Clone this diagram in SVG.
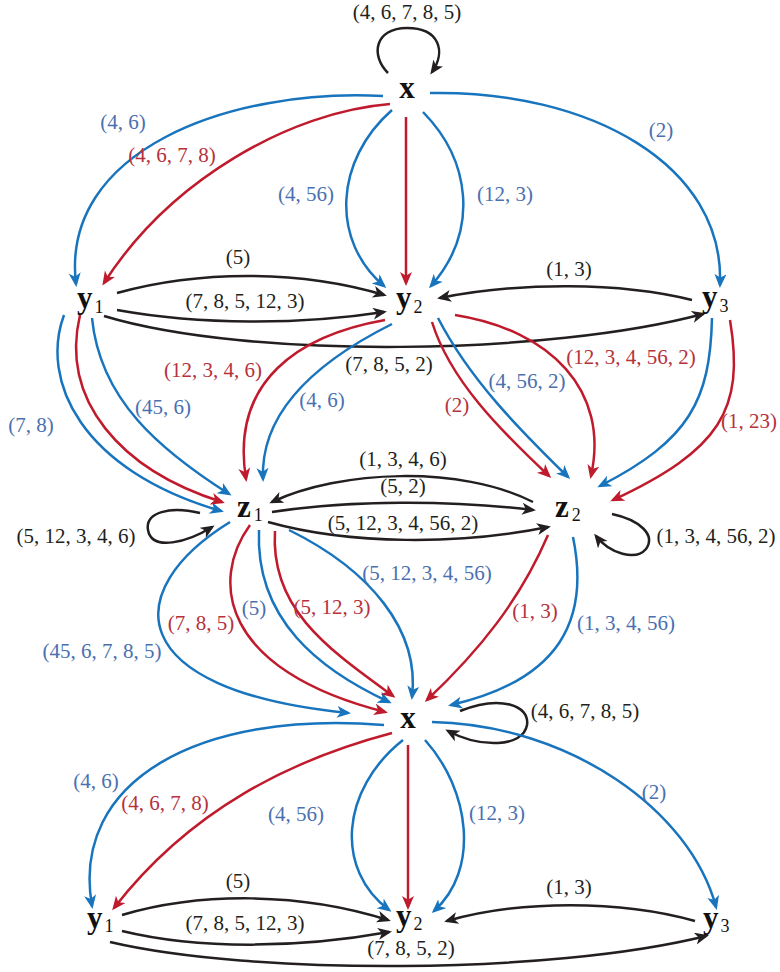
<svg xmlns="http://www.w3.org/2000/svg" width="780" height="972" viewBox="0 0 780 972">
<defs>
<style>
.e{fill:none;stroke-width:2.5}
.b{stroke:#1874bd;marker-end:url(#ab)}
.r{stroke:#c01b2d;marker-end:url(#ar)}
.k{stroke:#231f20;marker-end:url(#ak)}
.l{font-family:"Liberation Serif","Times New Roman",serif;font-size:21px;text-anchor:middle}
.lb{fill:#4a70b0}
.lr{fill:#b5323d}
.lk{fill:#231f20}
.n{font-family:"Liberation Serif","Times New Roman",serif;font-size:31px;font-weight:bold;fill:#111}
.s{font-size:18px;font-weight:normal}
</style>
<marker id="ab" markerUnits="userSpaceOnUse" markerWidth="15" markerHeight="13" refX="11" refY="6" orient="auto"><path d="M0,0 L14,6 L0,12 L3.8,6 z" fill="#1874bd"/></marker>
<marker id="ar" markerUnits="userSpaceOnUse" markerWidth="15" markerHeight="13" refX="11" refY="6" orient="auto"><path d="M0,0 L14,6 L0,12 L3.8,6 z" fill="#c01b2d"/></marker>
<marker id="ak" markerUnits="userSpaceOnUse" markerWidth="15" markerHeight="13" refX="11" refY="6" orient="auto"><path d="M0,0 L14,6 L0,12 L3.8,6 z" fill="#231f20"/></marker>
</defs>
<rect width="780" height="972" fill="#fff"/>
<g id="connectors">
<path class="e k" d="M388 73 C370 55,375 28,407 28 C440 28,446 52,432 72"/>
<path class="e b" d="M383 96 C230 88,60 150,76 284"/>
<path class="e r" d="M390 104 C290 112,170 180,104 283"/>
<path class="e b" d="M392 110 C335 160,330 240,384 286"/>
<path class="e r" d="M406 117 L406 283"/>
<path class="e b" d="M423 112 C470 160,480 230,431 286"/>
<path class="e b" d="M430 93 C590 90,725 165,720 285"/>
<path class="e k" d="M117 293 C200 270,300 270,384 295"/>
<path class="e k" d="M117 310 C200 325,300 325,384 312"/>
<path class="e k" d="M692 300 C620 282,520 282,440 298"/>
<path class="e k" d="M104 316 C250 360,550 355,703 314"/>
<path class="e b" d="M64 315 C40 380,80 470,221 511"/>
<path class="e r" d="M80 315 C60 400,120 470,222 502"/>
<path class="e b" d="M92 318 C100 400,160 450,229 494"/>
<path class="e r" d="M385 320 C300 335,230 380,246 479"/>
<path class="e b" d="M392 324 C320 360,260 410,263 479"/>
<path class="e r" d="M432 322 C450 380,500 430,549 476"/>
<path class="e b" d="M438 318 C470 380,520 430,568 477"/>
<path class="e r" d="M455 315 C550 330,610 390,591 476"/>
<path class="e b" d="M712 318 C710 400,690 440,600 486"/>
<path class="e r" d="M730 320 C745 410,720 450,613 500"/>
<path class="e k" d="M533 502 C460 465,340 470,272 502"/>
<path class="e k" d="M272 512 C350 500,450 500,533 510"/>
<path class="e k" d="M268 522 C350 545,460 545,548 527"/>
<path class="e k" d="M200 513 C170 506,145 512,148 530 C152 552,188 542,212 527"/>
<path class="e k" d="M612 514 C640 520,656 535,646 549 C636 561,610 554,596 536"/>
<path class="e b" d="M230 522 C120 590,120 690,348 713"/>
<path class="e r" d="M250 525 C210 580,220 670,385 712"/>
<path class="e b" d="M259 530 C255 620,320 670,389 702"/>
<path class="e r" d="M275 531 C270 610,330 650,393 696"/>
<path class="e b" d="M289 530 C370 570,420 630,412 697"/>
<path class="e r" d="M548 535 C520 600,480 650,427 700"/>
<path class="e b" d="M573 537 C590 620,560 680,451 705"/>
<path class="e k" d="M460 711 C500 695,530 705,527 725 C523 748,480 748,448 731"/>
<path class="e b" d="M384 725 C200 710,70 780,92 906"/>
<path class="e r" d="M392 733 C290 760,190 810,114 908"/>
<path class="e b" d="M403 740 C340 790,335 870,389 910"/>
<path class="e r" d="M408 745 L408 907"/>
<path class="e b" d="M425 740 C470 790,480 870,434 911"/>
<path class="e b" d="M432 722 C570 725,690 810,716 907"/>
<path class="e k" d="M122 915 C200 892,300 892,388 920"/>
<path class="e k" d="M122 931 C200 950,300 948,389 932"/>
<path class="e k" d="M695 921 C620 900,520 900,447 921"/>
<path class="e k" d="M110 942 C250 975,550 975,706 936"/>
</g>
<g id="labels">
<text class="l lk" x="407" y="19">(4, 6, 7, 8, 5)</text>
<text class="l lb" x="123" y="129">(4, 6)</text>
<text class="l lr" x="172" y="162">(4, 6, 7, 8)</text>
<text class="l lb" x="306" y="201">(4, 56)</text>
<text class="l lb" x="505" y="201">(12, 3)</text>
<text class="l lb" x="661" y="137">(2)</text>
<text class="l lk" x="238" y="264">(5)</text>
<text class="l lk" x="245" y="308">(7, 8, 5, 12, 3)</text>
<text class="l lk" x="569" y="276">(1, 3)</text>
<text class="l lk" x="389" y="371">(7, 8, 5, 2)</text>
<text class="l lb" x="31" y="432">(7, 8)</text>
<text class="l lb" x="163" y="414">(45, 6)</text>
<text class="l lr" x="213" y="377">(12, 3, 4, 6)</text>
<text class="l lb" x="322" y="407">(4, 6)</text>
<text class="l lr" x="457" y="412">(2)</text>
<text class="l lb" x="527" y="388">(4, 56, 2)</text>
<text class="l lr" x="631" y="364">(12, 3, 4, 56, 2)</text>
<text class="l lr" x="749" y="428">(1, 23)</text>
<text class="l lk" x="403" y="466">(1, 3, 4, 6)</text>
<text class="l lk" x="403" y="493">(5, 2)</text>
<text class="l lk" x="403" y="530">(5, 12, 3, 4, 56, 2)</text>
<text class="l lk" x="76" y="543">(5, 12, 3, 4, 6)</text>
<text class="l lk" x="716" y="543">(1, 3, 4, 56, 2)</text>
<text class="l lb" x="102" y="658">(45, 6, 7, 8, 5)</text>
<text class="l lr" x="201" y="630">(7, 8, 5)</text>
<text class="l lb" x="254" y="615">(5)</text>
<text class="l lr" x="332" y="614">(5, 12, 3)</text>
<text class="l lb" x="427" y="580">(5, 12, 3, 4, 56)</text>
<text class="l lr" x="535" y="618">(1, 3)</text>
<text class="l lb" x="626" y="630">(1, 3, 4, 56)</text>
<text class="l lk" x="585" y="718">(4, 6, 7, 8, 5)</text>
<text class="l lb" x="96" y="788">(4, 6)</text>
<text class="l lr" x="165" y="810">(4, 6, 7, 8)</text>
<text class="l lb" x="296" y="821">(4, 56)</text>
<text class="l lb" x="497" y="820">(12, 3)</text>
<text class="l lb" x="654" y="799">(2)</text>
<text class="l lk" x="238" y="888">(5)</text>
<text class="l lk" x="245" y="930">(7, 8, 5, 12, 3)</text>
<text class="l lk" x="569" y="894">(1, 3)</text>
<text class="l lk" x="411" y="955">(7, 8, 5, 2)</text>
</g>
<g id="node-x-top"><text class="n" x="407" y="98" text-anchor="middle">x</text></g>
<g id="node-y1-top"><text class="n" x="77" y="308">y<tspan class="s" dx="2" dy="5">1</tspan></text></g>
<g id="node-y2-top"><text class="n" x="396" y="308">y<tspan class="s" dx="2" dy="5">2</tspan></text></g>
<g id="node-y3-top"><text class="n" x="702" y="307">y<tspan class="s" dx="2" dy="5">3</tspan></text></g>
<g id="node-z1"><text class="n" x="237" y="517">z<tspan class="s" dx="3" dy="4">1</tspan></text></g>
<g id="node-z2"><text class="n" x="555" y="517">z<tspan class="s" dx="3" dy="4">2</tspan></text></g>
<g id="node-x-bottom"><text class="n" x="408" y="728" text-anchor="middle">x</text></g>
<g id="node-y1-bottom"><text class="n" x="87" y="928">y<tspan class="s" dx="2" dy="4">1</tspan></text></g>
<g id="node-y2-bottom"><text class="n" x="396" y="926">y<tspan class="s" dx="2" dy="4">2</tspan></text></g>
<g id="node-y3-bottom"><text class="n" x="703" y="928">y<tspan class="s" dx="2" dy="4">3</tspan></text></g>
</svg>
